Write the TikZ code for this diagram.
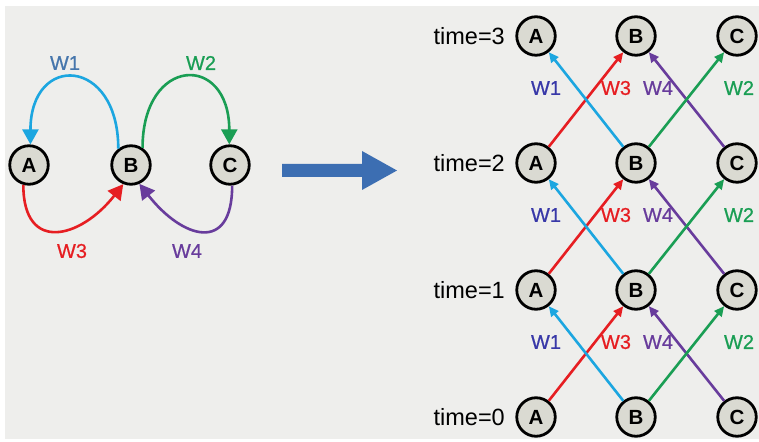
\documentclass[tikz,border=0pt]{standalone}
\usepackage{fontspec}
\setmainfont{Liberation Sans}
\newfontfamily\labelfont[FakeBold=0.6]{Liberation Sans}
\usetikzlibrary{arrows.meta}

\definecolor{bgc}{RGB}{238,238,236}
\definecolor{nodefill}{RGB}{218,218,210}
\definecolor{wblue}{RGB}{28,166,224}
\definecolor{wred}{RGB}{230,30,34}
\definecolor{wgreen}{RGB}{26,158,84}
\definecolor{wpurple}{RGB}{104,60,156}
\definecolor{labblue}{RGB}{70,118,172}
\definecolor{labindigo}{RGB}{56,56,168}
\definecolor{bigarrow}{RGB}{60,110,178}

\tikzset{
  state/.style={circle, draw=black, line width=2.8pt, fill=nodefill,
    minimum size=38.5pt, inner sep=0pt,
    font=\bfseries\fontsize{20.5}{20.5}\selectfont},
  timelbl/.style={anchor=east, inner sep=0pt, font=\fontsize{23.5}{23.5}\selectfont},
  wlbl/.style={inner sep=0pt, font=\labelfont\fontsize{20}{20}\selectfont},
  loopedge/.style={line width=2.6pt, -{Triangle[length=15pt,width=16pt]}},
  flowedge/.style={line width=2.6pt, -{Triangle[length=10pt,width=9pt]}},
}

\begin{document}
\begin{tikzpicture}[x=1pt,y=1pt]
\useasboundingbox (0,0) rectangle (759,441);
\fill[white] (0,0) rectangle (759,441);
\fill[bgc] (5,2) rectangle (759,435);

% ---- recurrent graph on the left ----
\node[state] (LA) at (29,276) {A};
\node[state] (LB) at (131,276) {B};
\node[state] (LC) at (230,276) {C};

\draw[loopedge, wblue]   (LB.128) to[out=90, in=90, distance=92] (LA.86);
\draw[loopedge, wgreen]  (LB.56)  to[out=90, in=90, distance=92] (LC.92);
\draw[loopedge, wred]    (LA.-106) to[out=-90, in=-128, distance=69] (LB.-112);
\draw[loopedge, wpurple] (LC.-84) to[out=-90, in=-52, distance=69] (LB.-66);

\node[wlbl, text=labblue]  (lw1) at (65,378) {W1};
\node[wlbl, text=wgreen]   (lw2) at (201,378) {W2};
\node[wlbl, text=wred]     (lw3) at (72,190) {W3};
\node[wlbl, text=wpurple]  (lw4) at (187,190) {W4};

% ---- block arrow ----
\fill[bigarrow] (282,264) -- (362,264) -- (362,251) -- (397,270.5)
  -- (362,290) -- (362,277) -- (282,277) -- cycle;

% ---- unrolled network on the right ----
\foreach \r/\y in {0/24,1/151,2/278,3/405} {
  \node[timelbl] (t\r) at (505,\y) {time=\r};
  \node[state] (A\r) at (536,\y) {A};
  \node[state] (B\r) at (636,\y) {B};
  \node[state] (C\r) at (737,\y) {C};
}

\foreach \r/\s in {0/1,1/2,2/3} {
  \draw[flowedge, wred]    (A\r) -- (B\s);
  \draw[flowedge, wblue]   (B\r) -- (A\s);
  \draw[flowedge, wpurple] (C\r) -- (B\s);
  \draw[flowedge, wgreen]  (B\r) -- (C\s);
}

\foreach \y in {99,226,353} {
  \node[wlbl, text=labindigo] at (546,\y) {W1};
  \node[wlbl, text=wred]      at (616,\y) {W3};
  \node[wlbl, text=wpurple]   at (658,\y) {W4};
  \node[wlbl, text=wgreen]    at (739,\y) {W2};
}
\end{tikzpicture}
\end{document}
